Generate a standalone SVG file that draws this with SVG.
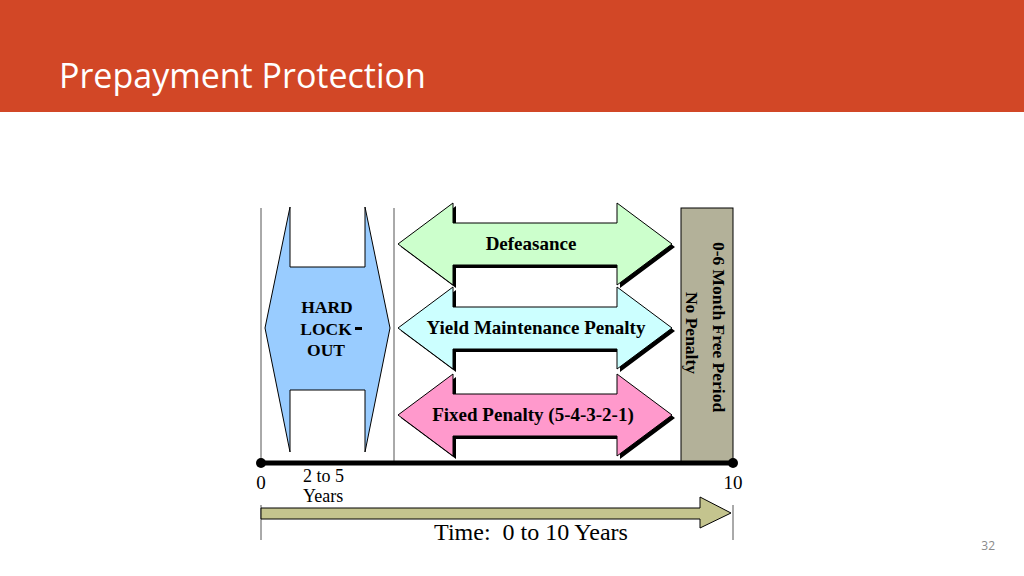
<svg xmlns="http://www.w3.org/2000/svg" width="1024" height="576" viewBox="0 0 1024 576">
<style>
.t{font-family:"Liberation Serif",serif;font-weight:bold;fill:#000}
.a{stroke:#000;stroke-width:1}
.sh{fill:#000}
</style>
<rect width="1024" height="576" fill="#fff"/>
<rect width="1024" height="112" fill="#d24726"/>
<text x="59" y="88" font-family="Open Sans, sans-serif" font-size="34" fill="#fff">Prepayment Protection</text>
<text x="995" y="550" font-family="Open Sans, sans-serif" font-size="12" fill="#8a8a8a" text-anchor="end">32</text>
<g id="guides" stroke="#555" stroke-width="1">
<line x1="261" y1="208" x2="261" y2="463"/>
<line x1="394" y1="208" x2="394" y2="463"/>
<line x1="261" y1="505" x2="261" y2="540"/>
<line x1="733" y1="505" x2="733" y2="540"/>
</g>
<g id="lockout">
<polygon class="a" fill="#99ccff" points="290,207 290,267 365,267 365,207 390,328 365,452 365,390 290,390 290,452 265,328"/>
<text class="t" font-size="17.5" x="327" y="313" text-anchor="middle">HARD</text>
<text class="t" font-size="17.5" x="326" y="335" text-anchor="middle">LOCK</text>
<rect x="355" y="327" width="7" height="3" fill="#000"/>
<text class="t" font-size="17.5" x="326" y="356" text-anchor="middle">OUT</text>
</g>
<g id="defeasance">
<polygon class="sh" transform="translate(3,3)" points="398,244 453,203 453,223 617,223 617,203 672,244 617,285 617,265 453,265 453,285"/>
<polygon class="a" fill="#ccffcc" points="398,244 453,203 453,223 617,223 617,203 672,244 617,285 617,265 453,265 453,285"/>
<text class="t" font-size="19" x="531" y="250" text-anchor="middle">Defeasance</text>
</g>
<g id="yield">
<polygon class="sh" transform="translate(3,3)" points="398,328 453,287 453,307 617,307 617,287 672,328 617,369 617,349 453,349 453,369"/>
<polygon class="a" fill="#ccffff" points="398,328 453,287 453,307 617,307 617,287 672,328 617,369 617,349 453,349 453,369"/>
<text class="t" font-size="19" x="536" y="334" text-anchor="middle">Yield Maintenance Penalty</text>
</g>
<g id="fixed">
<polygon class="sh" transform="translate(3,3)" points="398,415 453,374 453,394 617,394 617,374 672,415 617,456 617,436 453,436 453,456"/>
<polygon class="a" fill="#ff99cc" points="398,415 453,374 453,394 617,394 617,374 672,415 617,456 617,436 453,436 453,456"/>
<text class="t" font-size="19" x="533" y="421" text-anchor="middle">Fixed Penalty (5-4-3-2-1)</text>
</g>
<g id="free">
<rect class="a" x="681" y="208" width="52" height="254" fill="#b3b199"/>
<text class="t" font-size="17.5" transform="translate(713,327) rotate(90)" text-anchor="middle">0-6 Month Free Period</text>
<text class="t" font-size="17.5" transform="translate(686,333) rotate(90)" text-anchor="middle">No Penalty</text>
</g>
<g id="connectors">
<line x1="261" y1="463" x2="733" y2="463" stroke="#000" stroke-width="5"/>
<circle cx="261" cy="463" r="5" fill="#000"/>
<circle cx="733" cy="463" r="5" fill="#000"/>
<polygon class="a" fill="#c4c48e" points="261,508 700,508 700,497 731,513 700,528 700,519 261,519"/>
</g>
<g font-family="Liberation Serif, serif" font-size="18" fill="#000">
<text x="261" y="489" text-anchor="middle" font-size="19">0</text>
<text x="733" y="489" text-anchor="middle" font-size="19">10</text>
<text x="303" y="482">2 to 5</text>
<text x="303" y="502">Years</text>
<text x="531" y="540" font-size="24" text-anchor="middle" xml:space="preserve">Time:  0 to 10 Years</text>
</g>
</svg>
